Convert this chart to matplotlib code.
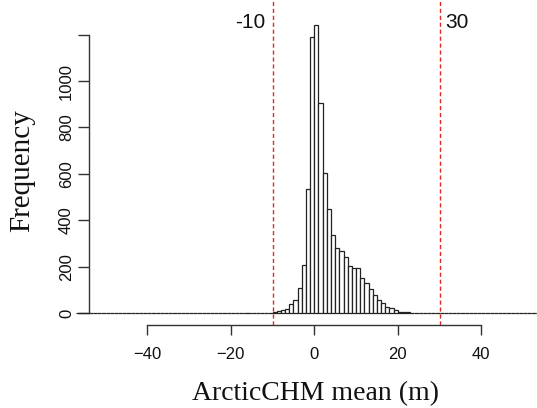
import numpy as np
import matplotlib
matplotlib.use("Agg")
import matplotlib.pyplot as plt

# ---- data ----
bin_width = 1.0
bin_start = -57
counts_by_left_edge = {
    -38: 1, -32: 1, -28: 1, -25: 1, -18: 1, -16: 1, -14: 1, -13: 2, -12: 2, -11: 3,
    -10: 6, -9: 9, -8: 13, -7: 20, -6: 42, -5: 56, -4: 109, -3: 209, -2: 536, -1: 1190,
    0: 1241, 1: 905, 2: 602, 3: 447, 4: 338, 5: 283, 6: 268, 7: 243, 8: 205, 9: 197,
    10: 197, 11: 151, 12: 129, 13: 104, 14: 80, 15: 56, 16: 46, 17: 27, 18: 24, 19: 13,
    20: 7, 21: 6, 22: 4, 23: 3, 24: 2, 25: 2, 26: 1, 27: 1, 28: 1, 29: 1,
    38: 1, 46: 1,
}
bin_lefts = np.arange(bin_start, 55, bin_width)
counts = np.array([counts_by_left_edge.get(int(b), 0) for b in bin_lefts])

thresholds = [-10, 30]
threshold_labels = ["-10", "30"]
x_ticks = [-40, -20, 0, 20, 40]
y_ticks = [0, 200, 400, 600, 800, 1000, 1200]
y_tick_labels = ["0", "200", "400", "600", "800", "1000", ""]
x_label = "ArcticCHM mean (m)"
y_label = "Frequency"

# ---- figure ----
W, H = 537, 408
fig = plt.figure(figsize=(W / 100, H / 100), dpi=100)
ax_bottom_px = 325.0
ax = fig.add_axes([0.0, (H - ax_bottom_px) / H, 1.0, ax_bottom_px / H])

px_per_x = 4.175
x0_px = 314.3
px_per_y = 0.2323
y0_px = 313.3
ax.set_xlim(-x0_px / px_per_x, (W - x0_px) / px_per_x)
ax.set_ylim(-(ax_bottom_px - y0_px) / px_per_y, y0_px / px_per_y)

edge = "#222222"
ax.bar(bin_lefts, counts, width=bin_width, align="edge", color="white",
       edgecolor=edge, linewidth=0.9, zorder=2)

for t in thresholds:
    ax.axvline(t, ymin=0, ymax=1, color="#e02828", linestyle=(0, (3, 2)),
               linewidth=1.0, zorder=3)
ax.text(thresholds[0] - 1.7, 1252, threshold_labels[0], ha="right", va="center",
        fontsize=15, family="Liberation Sans", color="#111111")
ax.text(thresholds[1] + 1.3, 1252, threshold_labels[1], ha="left", va="center",
        fontsize=15, family="Liberation Sans", color="#111111")

# axes styling (R-like)
for s in ["top", "right"]:
    ax.spines[s].set_visible(False)
ax.spines["left"].set_position(("data", (89.3 - x0_px) / px_per_x))
ax.spines["left"].set_bounds(0, 1200)
ax.spines["bottom"].set_bounds(-40, 40)
for s in ["left", "bottom"]:
    ax.spines[s].set_color("#333333")
    ax.spines[s].set_linewidth(1.0)

ax.set_xticks(x_ticks)
ax.set_xticklabels([str(v).replace("-", "\u2212") for v in x_ticks],
                   family="Liberation Sans", fontsize=12)
ax.set_yticks(y_ticks)
ax.set_yticklabels(y_tick_labels, rotation=90, va="center",
                   family="Liberation Sans", fontsize=12)
ax.tick_params(axis="x", direction="out", length=7, width=1.0, color="#333333",
               pad=9, labelcolor="#111111")
ax.tick_params(axis="y", direction="out", length=8, width=1.0, color="#333333",
               pad=3, labelcolor="#111111")
ax.patch.set_visible(False)

fig.text(315 / W, 1 - 394 / H, x_label, ha="center", va="center",
         family="Liberation Serif", fontsize=20, color="#111111")
fig.text(22 / W, 1 - 171 / H, y_label, ha="center", va="center", rotation=90,
         family="Liberation Serif", fontsize=21, color="#111111")

fig.savefig("out.png", dpi=100, facecolor="white")
